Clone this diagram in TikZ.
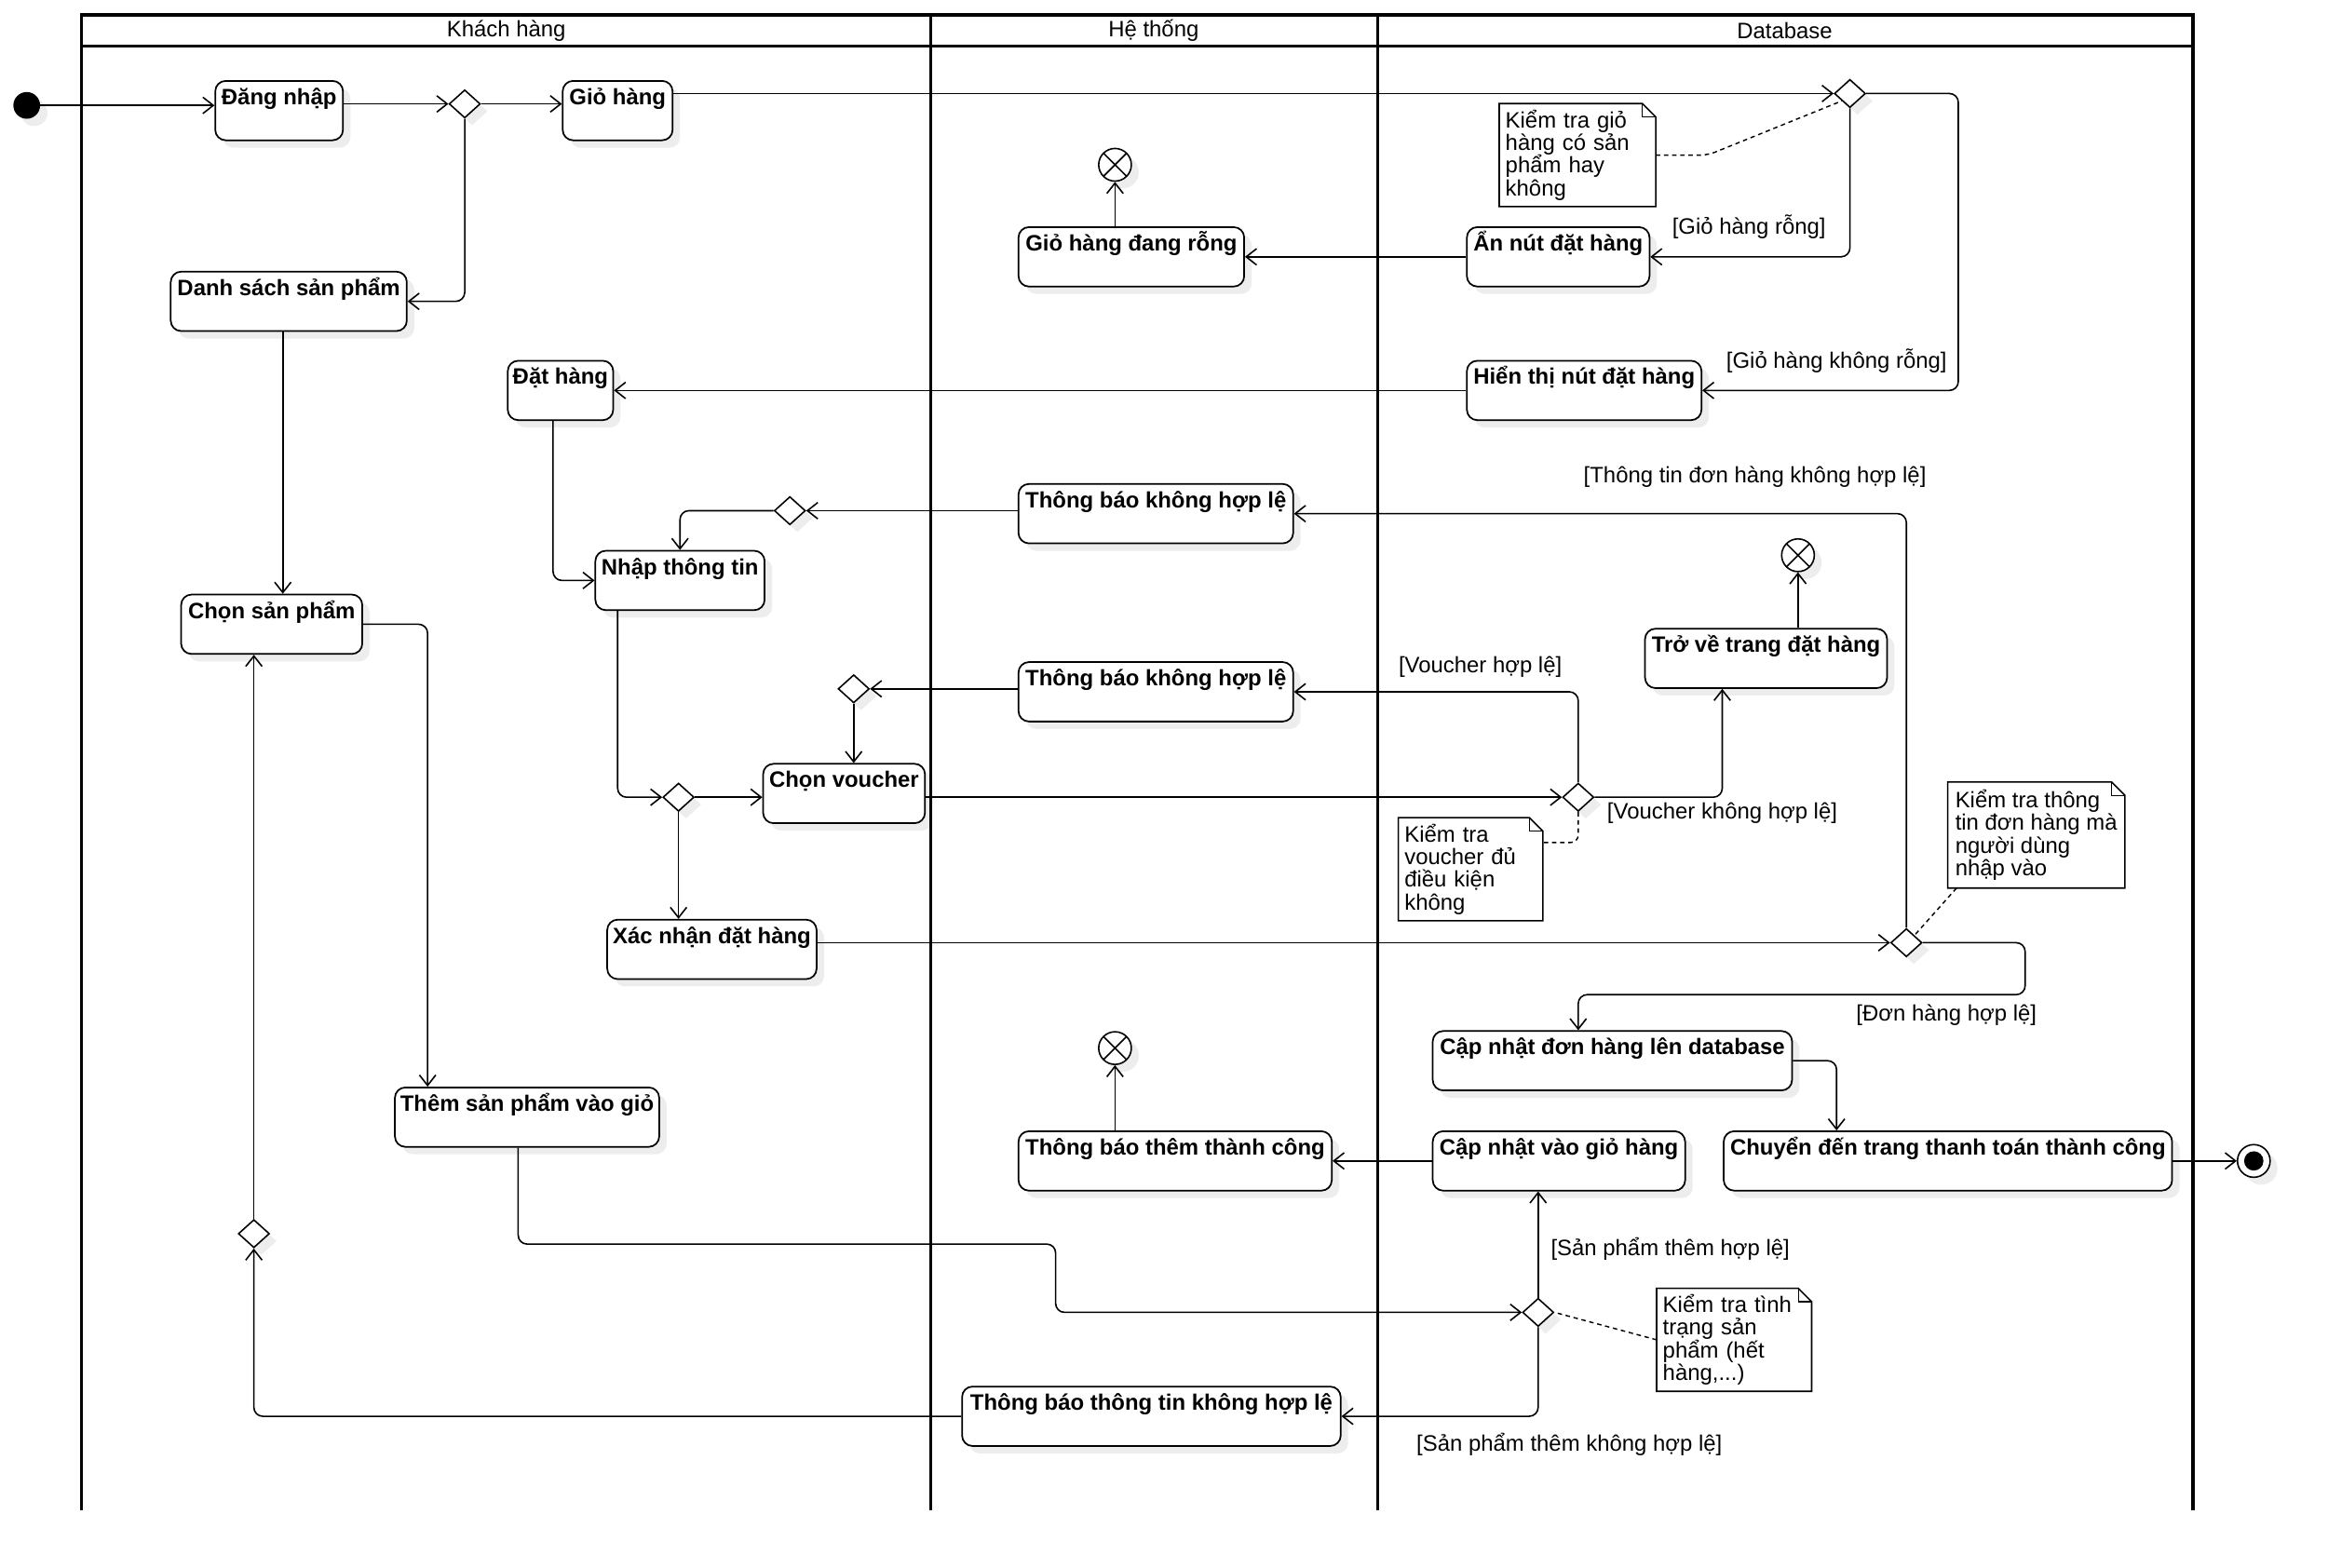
\documentclass[tikz,border=0pt]{standalone}
\usepackage{fontspec}
\setmainfont{Liberation Sans}
\usetikzlibrary{shapes.geometric,arrows.meta,shadows,calc}
\begin{document}
\begin{tikzpicture}[x=1pt,y=-1pt,
  every node/.style={font=\fontsize{15}{17}\selectfont},
  shd/.style={drop shadow={shadow xshift=5pt,shadow yshift=-5pt,fill=black!7,opacity=1}},
  act/.style={draw, rounded corners=7pt, line width=1.1pt, fill=white, shd,
    font=\bfseries\fontsize{15}{17}\selectfont, text height=12pt, text depth=20pt,
    inner xsep=3pt, inner ysep=4pt, minimum height=40pt},
  dec/.style={diamond, draw, line width=1pt, fill=white, inner sep=0pt,
    minimum width=21pt, minimum height=19pt, shd},
  arr/.style={line width=1pt, -{Straight Barb[length=7pt,width=11pt]}, rounded corners=6pt},
  dsh/.style={line width=0.9pt, dash pattern=on 3pt off 2.5pt, rounded corners=5pt},
  grd/.style={inner sep=1pt},
  notebox/.style={fill=white, align=left, inner xsep=4pt, inner ysep=3pt,
    font=\fontsize{15}{15.3}\selectfont},
  lane/.style={line width=2pt},
  ffinal/.style={circle, draw, line width=1pt, minimum size=22pt, inner sep=0pt, fill=white, shd,
    path picture={\draw[line width=1pt] (path picture bounding box.north west) -- (path picture bounding box.south east)
      (path picture bounding box.north east) -- (path picture bounding box.south west);}}
]
\useasboundingbox (0,0) rectangle (1568,1056);

% lane titles
\node (h1) at (341,20.5) {Khách hàng};
\node (h2) at (777,20.5) {Hệ thống};
\node (h3) at (1202,20.5) {Database};

% nodes
\node[circle, fill=black, minimum size=18pt, inner sep=0pt, shd] (start) at (18,71) {};
\node[act, minimum width=86pt] (dangnhap) at (188,74.5) {Đăng nhập};
\node[dec] (d1) at (313,70) {};
\node[act, minimum width=74pt] (giohang) at (416,74.5) {Giỏ hàng};
\node[act, minimum width=159pt] (danhsach) at (194.5,203) {Danh sách sản phẩm};
\node[dec] (d2) at (1246,63) {};
\node[act, minimum width=123pt] (annut) at (1049.5,173) {Ẩn nút đặt hàng};
\node[ffinal] (x1) at (751,111) {};
\node[act, minimum width=152pt] (gioRong) at (762,173) {Giỏ hàng đang rỗng};
\node[act, minimum width=158pt] (hienthi) at (1067,263) {Hiển thị nút đặt hàng};
\node[act, minimum width=71pt] (dathang) at (377.5,263) {Đặt hàng};
\node[act, minimum width=185pt] (tb1) at (778.5,346) {Thông báo không hợp lệ};
\node[dec] (d3) at (532,344) {};
\node[act, minimum width=114pt] (nhap) at (458,391) {Nhập thông tin};
\node[act, minimum width=122pt] (chonsp) at (183,420.5) {Chọn sản phẩm};
\node[ffinal] (x2) at (1211,374) {};
\node[act, minimum width=163pt] (trove) at (1189.5,443.5) {Trở về trang đặt hàng};
\node[act, minimum width=185pt] (tb2) at (778.5,466) {Thông báo không hợp lệ};
\node[dec] (d4) at (575,464) {};
\node[act, minimum width=109pt] (voucher) at (568.5,534.5) {Chọn voucher};
\node[dec] (d5) at (457,537) {};
\node[dec] (d6) at (1063,537) {};
\node[act, minimum width=141pt] (xacnhan) at (479.5,639.5) {Xác nhận đặt hàng};
\node[dec] (d7) at (1284,635) {};
\node[act, minimum width=242pt] (capdon) at (1086,714.5) {Cập nhật đơn hàng lên database};
\node[ffinal] (x3) at (751,706) {};
\node[act, minimum width=178pt] (themsp) at (355,752.5) {Thêm sản phẩm vào giỏ};
\node[act, minimum width=211pt] (tbthem) at (791.5,782) {Thông báo thêm thành công};
\node[act, minimum width=170pt] (capgio) at (1050,782) {Cập nhật vào giỏ hàng};
\node[act, minimum width=302pt] (chuyen) at (1312,782) {Chuyển đến trang thanh toán thành công};
\node[circle, draw, line width=1pt, minimum size=22pt, inner sep=0pt, fill=white, shd] (endn) at (1518,782) {};
\fill (endn.center) circle (6.5);
\node[dec] (d8) at (171,831) {};
\node[dec] (d9) at (1036,884) {};
\node[act, minimum width=255pt] (tbtt) at (775.5,954) {Thông báo thông tin không hợp lệ};

% notes
\node[notebox, minimum width=105pt, minimum height=69pt, text width=97pt] (n1) at (1062.5,104.5)
  {Kiểm tra giỏ\\hàng có sản\\phẩm hay\\không};
\node[notebox, minimum width=97pt, minimum height=69pt, text width=89pt] (n2) at (990.5,585.5)
  {Kiểm tra\\voucher đủ\\điều kiện\\không};
\node[notebox, minimum width=119pt, minimum height=71pt] (n3) at (1371.5,562.5)
  {Kiểm tra thông\\tin đơn hàng mà\\người dùng\\nhập vào};
\node[notebox, minimum width=104pt, minimum height=69pt, text width=96pt] (n4) at (1168,902.5)
  {Kiểm tra tình\\trạng sản\\phẩm (hết\\hàng,...)};
\foreach \n in {n1,n2,n3,n4}{
  \draw[line width=1pt] (\n.south west) -- (\n.north west) -- ([xshift=-9pt]\n.north east)
    -- ([yshift=-9pt]\n.north east) -- (\n.south east) -- cycle;
  \draw[line width=0.8pt] ([xshift=-9pt]\n.north east) -- ([xshift=-9pt,yshift=-9pt]\n.north east)
    -- ([yshift=-9pt]\n.north east);
}

% guard labels
\node[grd] (g1) at (1178,153) {[Giỏ hàng rỗng]};
\node[grd] (g2) at (1237,243) {[Giỏ hàng không rỗng]};
\node[grd] (g3) at (1182,321) {[Thông tin đơn hàng không hợp lệ]};
\node[grd] (g4) at (997,449) {[Voucher hợp lệ]};
\node[grd] (g5) at (1160,548) {[Voucher không hợp lệ]};
\node[grd] (g6) at (1311,684) {[Đơn hàng hợp lệ]};
\node[grd] (g7) at (1125,841) {[Sản phẩm thêm hợp lệ]};
\node[grd] (g8) at (1057,973) {[Sản phẩm thêm không hợp lệ]};

% connectors
\draw[arr] (start.east) -- (start.east -| dangnhap.west);
\draw[arr] (dangnhap.east |- d1.west) -- (d1.west);
\draw[arr] (d1.east) -- (d1.east -| giohang.west);
\draw[arr] (d1.south) |- (danhsach.east);
\draw[arr] (giohang.east |- d2.west) -- (d2.west);
\draw[arr] (d2.south) |- (annut.east);
\draw[arr] (d2.east) -- ++(62,0) |- (hienthi.east);
\draw[arr] (annut.west) -- (gioRong.east);
\draw[arr] (x1 |- gioRong.north) -- (x1.south);
\draw[arr] (hienthi.west) -- (dathang.east);
\draw[arr] ([xshift=-5pt]dathang.south) |- (nhap.west);
\draw[arr] (d7.north) |- (tb1.east);
\draw[arr] (tb1.west |- d3.east) -- (d3.east);
\draw[arr] (d3.west) -| (nhap.north);
\draw[arr] ([xshift=-4pt]danhsach.south) -- ([xshift=-4pt]danhsach.south |- chonsp.north);
\draw[arr] (chonsp.east) -| ([xshift=-67pt]themsp.north);
\draw[arr] ([xshift=-42pt]nhap.south) |- (d5.west);
\draw[arr] (d5.east) -- (d5.east -| voucher.west);
\draw[arr] (d5.south) -- (d5.south |- xacnhan.north);
\draw[arr] (voucher.east |- d6.west) -- (d6.west);
\draw[arr] (d6.north) |- (tb2.east);
\draw[arr] (d6.east) -| ([xshift=-29.5pt]trove.south);
\draw[arr] (x2 |- trove.north) -- (x2.south);
\draw[arr] (tb2.west |- d4.east) -- (d4.east);
\draw[arr] (d4.south) -- (d4.south |- voucher.north);
\draw[arr] (xacnhan.east |- d7.west) -- (d7.west);
\draw[arr] (d7.east) -- ++(69,0) -- ++(0,35) -| ([xshift=-23pt]capdon.north);
\draw[arr] (capdon.east) -| ([xshift=-75pt]chuyen.north);
\draw[arr] (chuyen.east) -- (endn.west);
\draw[arr] (capgio.west) -- (tbthem.east);
\draw[arr] (x3 |- tbthem.north) -- (x3.south);
\coordinate (b1) at (711,838);
\draw[arr] ([xshift=-6pt]themsp.south) |- (b1) |- (d9.west);
\draw[arr] (d9.north) -- (d9.north |- capgio.south);
\draw[arr] (d9.south) |- (tbtt.east);
\draw[arr] (tbtt.west) -| (d8.south);
\draw[arr] (d8.north) -- (d8.north |- chonsp.south);

% note links
\draw[dsh] (n1.east) -- ++(35,0) -- (d2.south west);
\draw[dsh] (d6.south) |- ([yshift=18pt]n2.east);
\draw[dsh] ([xshift=6pt]n3.south west) -- (d7.north east);
\draw[dsh] (n4.west) -- (d9.east);

% swimlanes (drawn last so no shadow hides them)
\draw[lane] (55,1017) -- (55,10) -- (1477,10) -- (1477,1017);
\draw[lane] (55,31) -- (1477,31);
\draw[lane] (627,10) -- (627,1017);
\draw[lane] (928,10) -- (928,1017);
\end{tikzpicture}
\end{document}
